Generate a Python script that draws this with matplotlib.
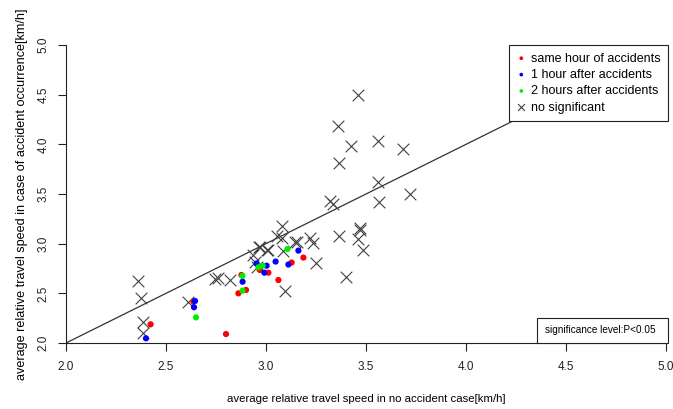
import matplotlib
matplotlib.use("Agg")
import matplotlib.pyplot as plt
from matplotlib.patches import Rectangle

plt.rcParams['font.family'] = ['Liberation Sans', 'DejaVu Sans']

# no significant (x markers)
ns_x = [2.36, 2.375, 2.385, 2.385, 2.61, 2.745, 2.76, 2.82, 2.937, 2.945, 2.957, 2.965, 2.97,
        3.007, 3.01, 3.053, 3.078, 3.078, 3.083, 3.095, 3.145, 3.153, 3.22, 3.237, 3.25,
        3.32, 3.335, 3.36, 3.365, 3.367, 3.40, 3.425, 3.458, 3.46, 3.47, 3.47, 3.487,
        3.56, 3.56, 3.567, 3.687, 3.72]
ns_y = [2.624, 2.45, 2.21, 2.10, 2.415, 2.64, 2.65, 2.634, 2.886, 2.82, 2.77, 2.97, 2.97,
        2.936, 2.936, 3.077, 3.178, 3.054, 2.93, 2.527, 3.02, 3.02, 3.06, 3.01, 2.81,
        3.43, 3.40, 4.18, 3.077, 3.81, 2.668, 3.986, 4.50, 3.044, 3.14, 3.155, 2.936,
        4.03, 3.624, 3.42, 3.953, 3.497]

# same hour of accidents (red)
same_x = [2.423, 2.637, 2.80, 2.862, 2.877, 2.90, 2.967, 2.97, 3.012, 3.062, 3.128, 3.187]
same_y = [2.188, 2.415, 2.09, 2.50, 2.685, 2.534, 2.742, 2.735, 2.708, 2.634, 2.81, 2.86]

# 1 hour after accidents (blue)
one_x = [2.40, 2.645, 2.64, 2.883, 2.953, 2.992, 3.003, 3.048, 3.112, 3.162]
one_y = [2.047, 2.423, 2.36, 2.617, 2.80, 2.708, 2.778, 2.82, 2.79, 2.93]

# 2 hours after accidents (green)
two_x = [2.65, 2.883, 2.882, 2.962, 2.983, 3.107]
two_y = [2.258, 2.527, 2.675, 2.762, 2.778, 2.946]

ticks = [2.0, 2.5, 3.0, 3.5, 4.0, 4.5, 5.0]
tick_labels = ["2.0", "2.5", "3.0", "3.5", "4.0", "4.5", "5.0"]

fig = plt.figure(figsize=(6.73, 4.09), dpi=100)
ax = fig.add_axes([66/673, (409-343)/409, (666-66)/673, (343-45)/409])

ax.plot([2, 5], [2, 5], color='#333333', lw=0.9, zorder=1)
ax.scatter(ns_x, ns_y, marker='x', s=70, color='#404040', linewidths=0.8, zorder=2,
           label='no significant')
ax.scatter(same_x, same_y, marker='o', s=20, color='#FF0000', edgecolors='none', zorder=3,
           label='same hour of accidents')
ax.scatter(one_x, one_y, marker='o', s=20, color='#0000FF', edgecolors='none', zorder=4,
           label='1 hour after accidents')
ax.scatter(two_x, two_y, marker='o', s=20, color='#00EE00', edgecolors='none', zorder=5,
           label='2 hours after accidents')

ax.set_xlim(2, 5)
ax.set_ylim(2, 5)
ax.set_xticks(ticks)
ax.set_xticklabels(tick_labels)
ax.set_yticks(ticks)
ax.set_yticklabels(tick_labels, rotation=90, va='center')
ax.tick_params(axis='both', direction='out', length=6, width=0.8, labelsize=8.5, colors='#222222')
ax.tick_params(axis='x', pad=7)
ax.tick_params(axis='y', pad=6)
for s in ['top', 'right']:
    ax.spines[s].set_visible(False)
for s in ['left', 'bottom']:
    ax.spines[s].set_linewidth(0.8)
    ax.spines[s].set_color('#222222')

ax.set_xlabel('average relative travel speed in no accident case[km/h]', fontsize=8.2, labelpad=15)
ax.set_ylabel('average relative travel speed in case of accident occurrence[km/h]', fontsize=9.1, labelpad=7)

h, l = ax.get_legend_handles_labels()
order = [1, 2, 3, 0]
leg = ax.legend([h[i] for i in order], [l[i] for i in order], loc='upper right',
                bbox_to_anchor=(1.003, 1.0), borderaxespad=0, fancybox=False,
                edgecolor='#222222', framealpha=1, fontsize=9, handletextpad=0.35,
                labelspacing=0.35, borderpad=0.6, handlelength=0.8, markerscale=0.6)
leg.get_frame().set_linewidth(0.8)
leg.set_zorder(10)

ax.add_patch(Rectangle((0.785, 0.0), 0.218, 0.084, transform=ax.transAxes, facecolor='white',
                       edgecolor='#222222', linewidth=0.8, clip_on=False, zorder=11))
ax.text(0.798, 0.042, 'significance level:P<0.05', transform=ax.transAxes, fontsize=7.2,
        ha='left', va='center', zorder=12)

fig.savefig('out.png', dpi=100)
